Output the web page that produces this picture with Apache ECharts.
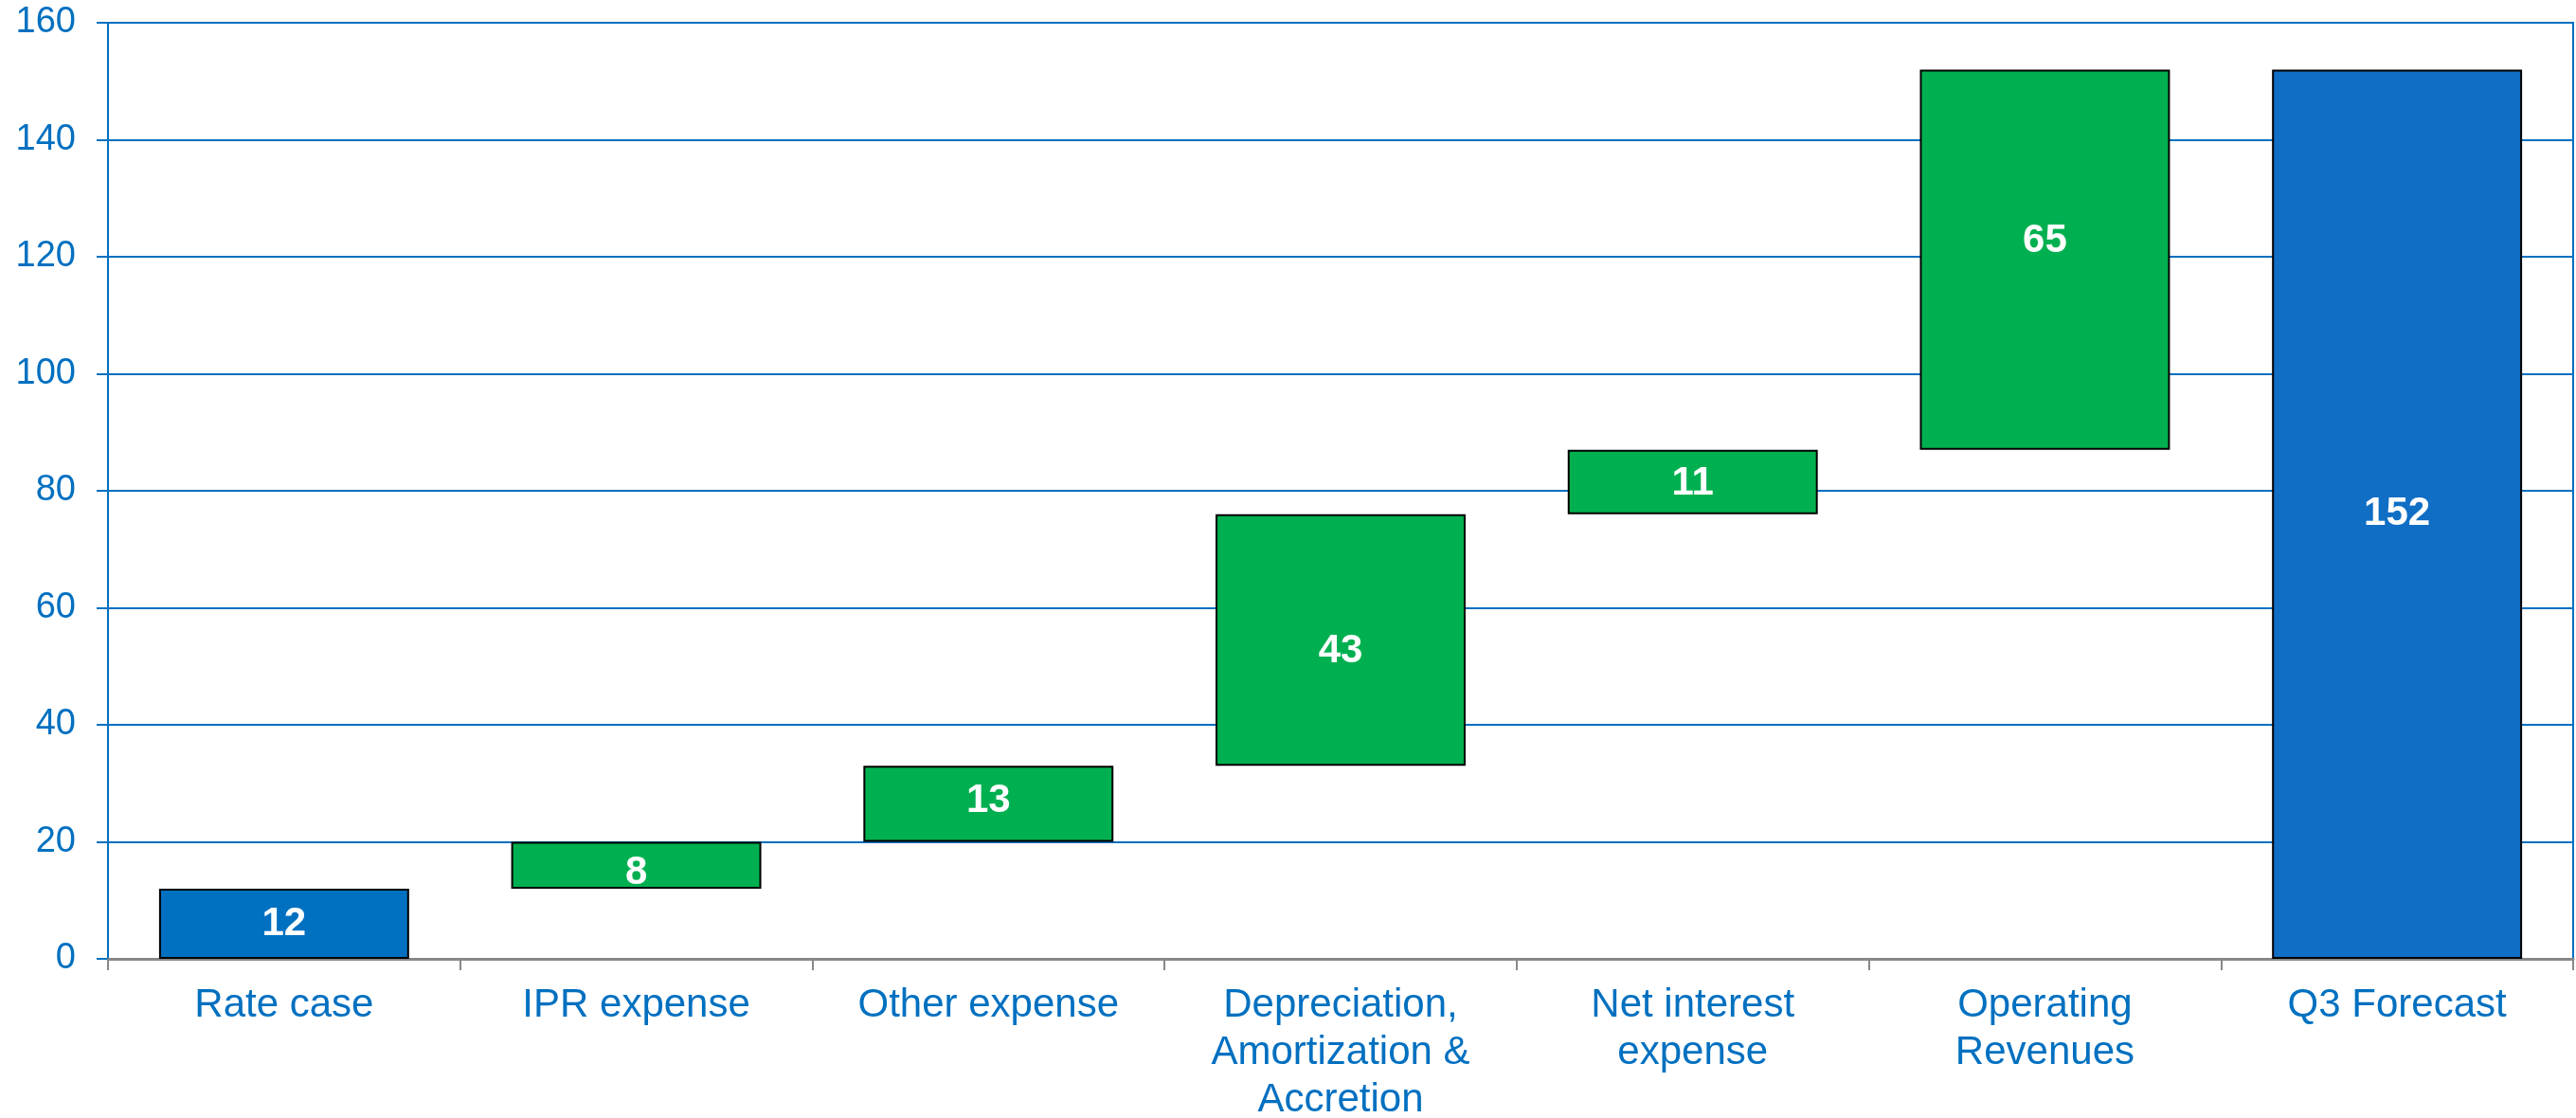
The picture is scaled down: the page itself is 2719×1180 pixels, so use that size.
<!DOCTYPE html>
<html>
<head>
<meta charset="utf-8">
<script src="https://cdn.jsdelivr.net/npm/echarts@6/dist/echarts.min.js"></script>
<style>
html,body{margin:0;padding:0;background:#fff;}
#c{width:2719px;height:1180px;}
</style>
</head>
<body>
<div id="c"></div>
<script>
const categories = ["Rate case", "IPR expense", "Other expense", "Depreciation,\nAmortization &\nAccretion", "Net interest\nexpense", "Operating\nRevenues", "Q3 Forecast"];
const values = [12, 8, 13, 43, 11, 65, 152];
const isTotal = [true, false, false, false, false, false, true];
const yTicks = { min: 0, max: 160, interval: 20 };

// styling: small vertical nudges of the value labels (px), as placed in the original
const LABEL_NUDGE = [0, 8, -3, 12, 2, -20, 0];

const BLUE_TEXT = '#0070C0';
const BAR_BLUE_1 = '#0070C0';
const BAR_BLUE_2 = '#106EC4';
const BAR_GREEN = '#00B050';
const FONT = 'Liberation Sans, Arial, sans-serif';

// running base for waterfall
const base = [];
let run = 0;
values.forEach((v, i) => {
  if (isTotal[i]) { base.push(0); run = v; }
  else { base.push(run); run += v; }
});

const chart = echarts.init(document.getElementById('c'), null, { renderer: 'canvas' });
chart.setOption({
  backgroundColor: '#ffffff',
  animation: false,
  textStyle: { fontFamily: FONT },
  grid: {
    left: 114, right: 3, top: 24, bottom: 168,
    containLabel: false, outerBoundsMode: 'none',
    show: true, borderColor: BLUE_TEXT, borderWidth: 2, backgroundColor: 'transparent'
  },
  xAxis: {
    type: 'category',
    data: categories,
    axisLine: { lineStyle: { color: '#888888', width: 3 } },
    axisTick: { show: true, length: 12, alignWithLabel: false, lineStyle: { color: '#888888', width: 2 } },
    axisLabel: {
      color: BLUE_TEXT, fontSize: 42, lineHeight: 50, margin: 24, interval: 0, fontFamily: FONT
    },
    splitLine: { show: false }
  },
  yAxis: {
    type: 'value',
    min: yTicks.min, max: yTicks.max, interval: yTicks.interval,
    axisLine: { show: true, lineStyle: { color: BLUE_TEXT, width: 2 } },
    axisTick: { show: true, length: 12, lineStyle: { color: BLUE_TEXT, width: 2 } },
    axisLabel: { color: BLUE_TEXT, fontSize: 38, margin: 34, fontFamily: FONT },
    splitLine: { show: true, lineStyle: { color: BLUE_TEXT, width: 2 } }
  },
  series: [
    {
      type: 'bar', stack: 'w', barWidth: '71%',
      itemStyle: { color: 'transparent', borderColor: 'transparent' },
      emphasis: { disabled: true },
      data: base
    },
    {
      type: 'bar', stack: 'w', barWidth: '71%',
      data: values.map((v, i) => ({
        value: v,
        itemStyle: {
          color: isTotal[i] ? (i === 0 ? BAR_BLUE_1 : BAR_BLUE_2) : BAR_GREEN,
          borderColor: '#000000', borderWidth: 2
        },
        label: { offset: [0, LABEL_NUDGE[i]] }
      })),
      label: {
        show: true, position: 'inside', color: '#ffffff',
        fontSize: 42, fontWeight: 'bold', fontFamily: FONT
      }
    }
  ]
});
</script>
</body>
</html>
